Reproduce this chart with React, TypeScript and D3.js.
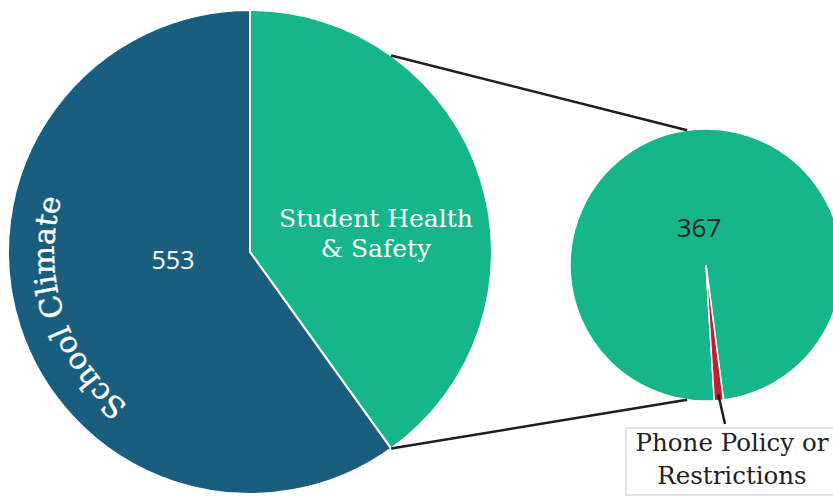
import React, { useRef, useEffect } from "react";
import * as d3 from "d3";

// top-level pie: categories + counts
const mainCategories = ["Student Health & Safety", "School Climate"];
const mainValues = [370, 553];
const mainLabels = ["553"];

// breakdown of Student Health & Safety
const subCategories = ["Student Health & Safety", "Phone Policy or Restrictions"];
const subValues = [367, 4];

const colors = {
  "School Climate": "#195e7f",
  "Student Health & Safety": "#15b68a",
  "Phone Policy or Restrictions": "#c01f31",
};

const W = 833;
const H = 496;
const serif = "'DejaVu Serif', serif";
const sans = "'Open Sans', sans-serif";
const deg = Math.PI / 180;

const pt = (cx, cy, r, a) => [cx + r * Math.sin(a), cy - r * Math.cos(a)];

const App = () => {
  const ref = useRef(null);

  useEffect(() => {
    const svg = d3.select(ref.current);
    svg.selectAll("*").remove();
    svg.attr("width", W).attr("height", H);

    // big pie
    const big = { cx: 250, cy: 252, r: 242 };
    const bigData = mainCategories.map((c, i) => ({ name: c, value: mainValues[i] }));
    const bigArcs = d3.pie().sort(null).value((d) => d.value)(bigData);
    const bigArc = d3.arc().innerRadius(0).outerRadius(big.r);

    const g1 = svg.append("g").attr("transform", `translate(${big.cx},${big.cy})`);
    g1.selectAll("path")
      .data(bigArcs)
      .join("path")
      .attr("d", bigArc)
      .attr("fill", (d) => colors[d.data.name])
      .attr("stroke", "#fff")
      .attr("stroke-width", 2);

    // small pie (breakdown), rotated so the thin slice sits near the bottom
    const small = { cx: 706, cy: 265, r: 136 };
    const start = 176.5 * deg;
    const subData = subCategories.map((c, i) => ({ name: c, value: subValues[i] }));
    const subArcs = d3
      .pie()
      .sort(null)
      .startAngle(start)
      .endAngle(start + 2 * Math.PI)
      .value((d) => d.value)(subData);
    const subArc = d3.arc().innerRadius(0).outerRadius(small.r);

    const g2 = svg.append("g").attr("transform", `translate(${small.cx},${small.cy})`);
    g2.selectAll("path")
      .data(subArcs)
      .join("path")
      .attr("d", subArc)
      .attr("fill", (d) => colors[d.data.name])
      .attr("stroke", "#fff")
      .attr("stroke-width", 1.5);

    // connector lines between the pies
    const edge = bigArcs[0].endAngle;
    const off = 8 * deg;
    const lines = [
      [pt(big.cx, big.cy, big.r, Math.PI - edge), pt(small.cx, small.cy, small.r, -off)],
      [pt(big.cx, big.cy, big.r, edge), pt(small.cx, small.cy, small.r, Math.PI + off)],
    ];
    svg
      .append("g")
      .selectAll("line")
      .data(lines)
      .join("line")
      .attr("x1", (d) => d[0][0])
      .attr("y1", (d) => d[0][1])
      .attr("x2", (d) => d[1][0])
      .attr("y2", (d) => d[1][1])
      .attr("stroke", "#1e1e1e")
      .attr("stroke-width", 2.5);

    // curved label along the School Climate slice
    const climate = bigArcs[1];
    const mid = (climate.startAngle + climate.endAngle) / 2;
    const tr = 196;
    const a0 = pt(0, 0, tr, mid - Math.PI / 2);
    const a1 = pt(0, 0, tr, mid + Math.PI / 2);
    g1.append("path")
      .attr("id", "climatePath")
      .attr("d", `M${a0[0]},${a0[1]} A${tr},${tr} 0 0 1 ${a1[0]},${a1[1]}`)
      .attr("fill", "none");
    g1.append("text")
      .attr("fill", "#fff")
      .attr("font-family", serif)
      .attr("font-size", 30)
      .attr("stroke", "#fff")
      .attr("stroke-width", 0.4)
      .append("textPath")
      .attr("href", "#climatePath")
      .attr("startOffset", "50%")
      .attr("text-anchor", "middle")
      .text(mainCategories[1]);

    g1.append("text")
      .attr("x", -77)
      .attr("y", 17)
      .attr("text-anchor", "middle")
      .attr("fill", "#fff")
      .attr("font-family", sans)
      .attr("font-size", 25)
      .text(mainLabels[0]);

    const shs = g1
      .append("text")
      .attr("text-anchor", "middle")
      .attr("fill", "#fff")
      .attr("font-family", serif)
      .attr("font-size", 25);
    shs.append("tspan").attr("x", 126).attr("y", -25).text("Student Health");
    shs.append("tspan").attr("x", 126).attr("y", 5).text("& Safety");

    g2.append("text")
      .attr("x", -7)
      .attr("y", -28)
      .attr("text-anchor", "middle")
      .attr("fill", "#222")
      .attr("font-family", sans)
      .attr("font-size", 26)
      .text(String(subValues[0]));

    // callout for the thin slice
    const red = subArcs[1];
    const rm = (red.startAngle + red.endAngle) / 2;
    const lp = pt(small.cx, small.cy, small.r - 6, rm);
    svg
      .append("line")
      .attr("x1", lp[0])
      .attr("y1", lp[1])
      .attr("x2", 725)
      .attr("y2", 424)
      .attr("stroke", "#1e1e1e")
      .attr("stroke-width", 2.5);

    svg
      .append("rect")
      .attr("x", 626)
      .attr("y", 428)
      .attr("width", 220)
      .attr("height", 67)
      .attr("fill", "#fff")
      .attr("stroke", "#e6e4e0")
      .attr("stroke-width", 2);

    const box = svg
      .append("text")
      .attr("text-anchor", "middle")
      .attr("fill", "#222")
      .attr("font-family", serif)
      .attr("font-size", 24.5);
    box.append("tspan").attr("x", 732).attr("y", 451).text("Phone Policy or");
    box.append("tspan").attr("x", 732).attr("y", 484).text("Restrictions");
  }, []);

  return <svg ref={ref} style={{ position: "absolute", left: 0, top: 0, display: "block" }}></svg>;
};

export default App;
